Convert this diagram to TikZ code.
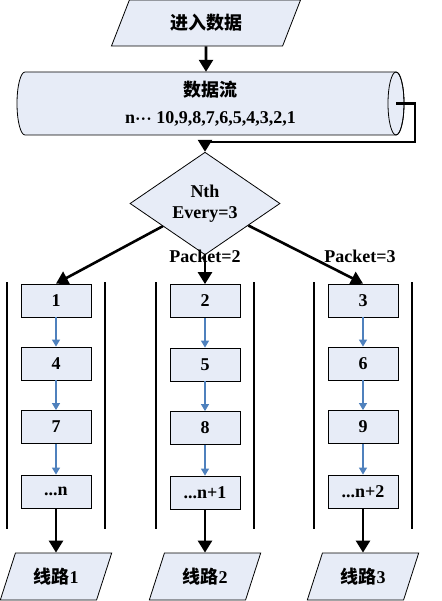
\documentclass[tikz,border=0pt]{standalone}
\usepackage{fontspec}
\setmainfont{Liberation Serif}
\newfontfamily\cjk{Noto Sans CJK SC}
\usetikzlibrary{positioning,arrows.meta,shapes.geometric}
\definecolor{boxfill}{RGB}{231,236,247}
\definecolor{linkblue}{RGB}{79,129,189}

\begin{document}
\begin{tikzpicture}[x=1pt, y=-1pt,
  font=\fontsize{18}{21}\selectfont\bfseries,
  item/.style={draw, fill=boxfill, line width=0.8pt, minimum width=70pt,
    minimum height=33pt, inner sep=0pt},
  io/.style={draw, fill=boxfill, line width=0.8pt, trapezium,
    trapezium left angle=64, trapezium right angle=116,
    trapezium stretches=true, inner sep=0pt},
  arr/.style={-{Triangle[length=12pt,width=14pt]}, line width=2.6pt},
  link/.style={-{Triangle[length=7pt,width=8pt]}, linkblue, line width=1.1pt},
  lane/.style={line width=1.1pt}
]
  \useasboundingbox (0,0) rectangle (441,601);

  % input and stream
  \node[io, minimum width=190pt, minimum height=46pt] (input) at (206,23)
    {\cjk 进入数据};
  \draw[fill=boxfill, line width=0.8pt] (25,72) -- (396,72)
    arc[start angle=-90, end angle=90, x radius=8, y radius=31.5] -- (25,135)
    arc[start angle=90, end angle=270, x radius=8, y radius=31.5] -- cycle;
  \draw[line width=0.8pt] (396,103.5) ellipse[x radius=8, y radius=31.5];
  \node[minimum width=371pt, minimum height=63pt, inner sep=0pt, align=center]
    (stream) at (210.5,103.5)
    {{\cjk 数据流}\\[6pt]n{\boldmath$\cdot$$\cdot$$\cdot$} 10,9,8,7,6,5,4,3,2,1};
  \node[draw, fill=boxfill, line width=0.8pt, diamond, minimum width=150pt,
    minimum height=73pt, inner sep=0pt, align=center] (nth) at (205,203.5)
    {Nth\\Every=3};
  \node (pkt2) at (205,256) {Packet=2};
  \node (pkt3) at (360,256) {Packet=3};

  % lanes
  \draw[lane] (7,282) -- (7,529);
  \draw[lane] (105,282) -- (105,529);
  \draw[lane] (156,282) -- (156,529);
  \draw[lane] (254,282) -- (254,529);
  \draw[lane] (314,282) -- (314,529);
  \draw[lane] (412,282) -- (412,529);

  % packets
  \node[item] (a1) at (56,300.5) {1};
  \node[item] (a2) at (56,363.5) {4};
  \node[item] (a3) at (56,427) {7};
  \node[item] (a4) at (56,491.5) {...n};
  \node[item] (b1) at (205,301) {2};
  \node[item] (b2) at (205,364.5) {5};
  \node[item] (b3) at (205,428) {8};
  \node[item] (b4) at (205,492.5) {...n+1};
  \node[item] (c1) at (363,300.5) {3};
  \node[item] (c2) at (363,363.5) {6};
  \node[item] (c3) at (363,427) {9};
  \node[item] (c4) at (363,491.5) {...n+2};

  % outputs
  \node[io, minimum width=112pt, minimum height=47pt] (out1) at (56,576.5)
    {{\cjk 线路}1};
  \node[io, minimum width=112pt, minimum height=47pt] (out2) at (205,576.5)
    {{\cjk 线路}2};
  \node[io, minimum width=112pt, minimum height=47pt] (out3) at (363,576.5)
    {{\cjk 线路}3};

  \coordinate (turn) at (415,142);
  \draw[arr] (input) -- (input |- stream.north);
  \draw[arr] (stream.east) -| (turn) -| (nth.north);
  \draw[arr] (nth) -- (a1.north);
  \draw[arr] (nth) -- (b1.north);
  \draw[arr] (nth) -- (c1.north);

  \draw[link] (a1) -- (a2);
  \draw[link] (a2) -- (a3);
  \draw[link] (a3) -- (a4);
  \draw[link] (b1) -- (b2);
  \draw[link] (b2) -- (b3);
  \draw[link] (b3) -- (b4);
  \draw[link] (c1) -- (c2);
  \draw[link] (c2) -- (c3);
  \draw[link] (c3) -- (c4);

  \draw[arr] (a4) -- (out1);
  \draw[arr] (b4) -- (out2);
  \draw[arr] (c4) -- (out3);
\end{tikzpicture}
\end{document}
